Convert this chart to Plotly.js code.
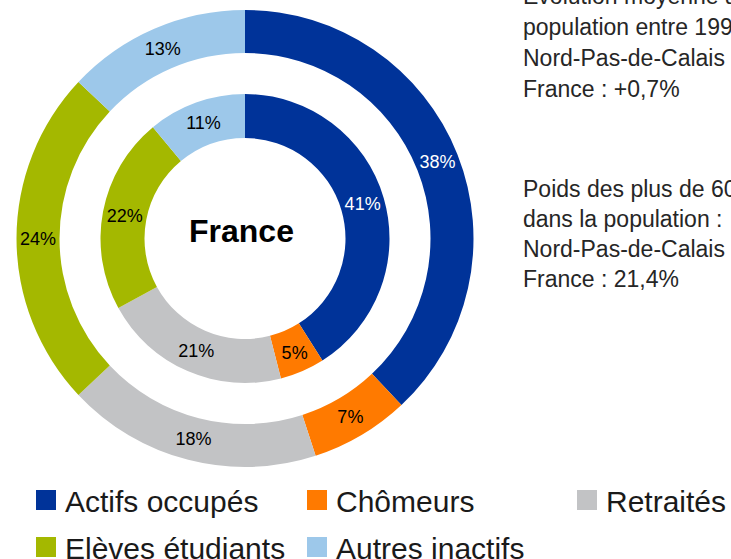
<!DOCTYPE html>
<html>
<head>
<meta charset="utf-8">
<script src="https://cdn.plot.ly/plotly-3.0.1.min.js"></script>
<style>
  html, body { margin: 0; padding: 0; background: #ffffff; }
  #chart { width: 731px; height: 559px; }
</style>
</head>
<body>
<div id="chart"></div>
<script>
// ---- Data ----
const categories = ["Actifs occupés", "Chômeurs", "Retraités", "Elèves étudiants", "Autres inactifs"];
const outerValues = [38, 7, 18, 24, 13];
const innerValues = [41, 5, 21, 22, 11];
const centerLabel = "France";
const noteBlock1 = ["Evolution moyenne annuelle de la", "population entre 1999 et 2006 :", "Nord-Pas-de-Calais : +0,1%", "France : +0,7%"];
const noteBlock2 = ["Poids des plus de 60 ans", "dans la population :", "Nord-Pas-de-Calais : 19,4%", "France : 21,4%"];

// ---- Styles ----
const colors = ["#003399", "#FF7A00", "#C2C3C5", "#A4B800", "#9DC8EA"];
const textColors = ["#ffffff", "#000000", "#000000", "#000000", "#000000"];
const W = 731, H = 559;
const FONT = "Liberation Sans, Arial, sans-serif";

const cx = 245, cy = 238.5;
function dom(r) {
  return {
    x: [(cx - r) / W, (cx + r) / W],
    y: [(H - cy - r) / H, (H - cy + r) / H]
  };
}

function ring(values, r, hole) {
  return {
    type: "pie",
    labels: categories,
    values: values,
    sort: false,
    direction: "clockwise",
    rotation: 0,
    hole: hole,
    domain: dom(r),
    marker: { colors: colors, line: { width: 0 } },
    texttemplate: "%{value}%",
    textposition: "inside",
    insidetextorientation: "horizontal",
    textfont: { family: FONT, size: 18, color: textColors },
    hoverinfo: "label+value",
    showlegend: false
  };
}

const data = [ring(outerValues, 228.5, 185.5 / 228.5), ring(innerValues, 144.5, 100.5 / 144.5)];

const annotations = [];
const shapes = [];

// center label
annotations.push({
  text: "<b>" + centerLabel + "</b>", xref: "paper", yref: "paper",
  x: 241 / W, y: (H - 231) / H, xanchor: "center", yanchor: "middle",
  showarrow: false, font: { family: FONT, size: 32, color: "#000000" }
});

// side notes
function addBlock(lines, yStart, step) {
  lines.forEach((t, i) => {
    annotations.push({
      text: t, xref: "paper", yref: "paper",
      x: 521 / W, y: (H - (yStart + i * step)) / H, xanchor: "left", yanchor: "middle",
      showarrow: false, font: { family: FONT, size: 23, color: "#262626" }
    });
  });
}
addBlock(noteBlock1, -4, 31);
addBlock(noteBlock2, 189, 30);

// legend (grid of squares + labels)
const colX = [36, 307, 577];
const rowY = [500, 547];
categories.forEach((c, i) => {
  const col = i % 3, row = Math.floor(i / 3);
  const x0 = colX[col], yc = rowY[row];
  shapes.push({
    type: "rect", xref: "paper", yref: "paper",
    x0: x0 / W, x1: (x0 + 20) / W, y0: (H - yc - 10) / H, y1: (H - yc + 10) / H,
    fillcolor: colors[i], line: { width: 0 }
  });
  annotations.push({
    text: c, xref: "paper", yref: "paper",
    x: (x0 + 27) / W, y: (H - yc - 1) / H, xanchor: "left", yanchor: "middle",
    showarrow: false, font: { family: FONT, size: 30, color: "#1a1a1a" }
  });
});

const layout = {
  width: W, height: H,
  margin: { l: 0, r: 0, t: 0, b: 0 },
  paper_bgcolor: "#ffffff",
  plot_bgcolor: "#ffffff",
  showlegend: false,
  annotations: annotations,
  shapes: shapes
};

Plotly.newPlot("chart", data, layout, { displayModeBar: false, staticPlot: true });
</script>
</body>
</html>
